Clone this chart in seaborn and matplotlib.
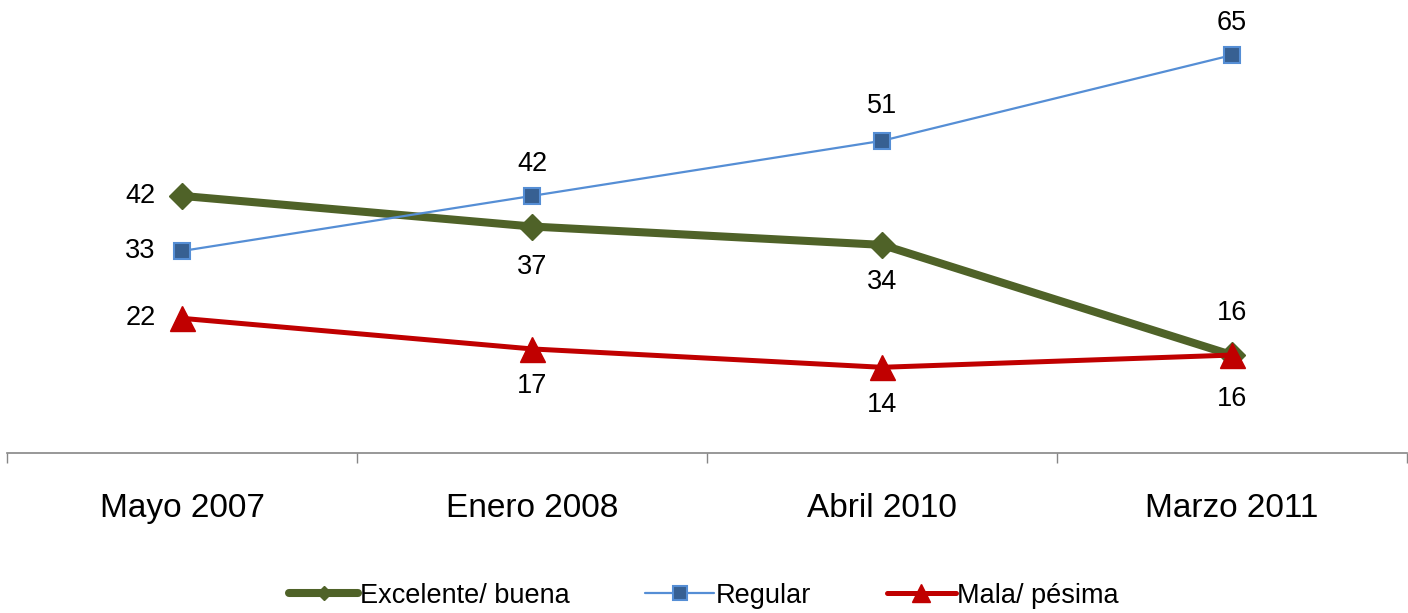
import matplotlib.pyplot as plt
import pandas as pd
import seaborn as sns

periods = ["Mayo 2007", "Enero 2008", "Abril 2010", "Marzo 2011"]
excelente = [42, 37, 34, 16]
regular = [33, 42, 51, 65]
mala = [22, 17, 14, 16]

series_names = ["Excelente/ buena", "Regular", "Mala/ pésima"]

sns.set_style("white")
plt.rcParams["font.family"] = ["Liberation Sans Narrow", "Liberation Sans", "DejaVu Sans"]

df = pd.DataFrame(
    {
        "periodo": periods * 3,
        "valor": excelente + regular + mala,
        "serie": [s for s in series_names for _ in periods],
    }
)

styles = {
    "Excelente/ buena": dict(color="#4F6228", lw=5.8, marker="D", ms=13,
                             mfc="#4F6228", mec="#4F6228", mew=1),
    "Regular": dict(color="#558ED5", lw=1.6, marker="s", ms=11,
                    mfc="#376092", mec="#558ED5", mew=1.5),
    "Mala/ pésima": dict(color="#C00000", lw=3.6, marker="^", ms=18,
                         mfc="#C00000", mec="#C00000", mew=1),
}
legend_ms = [7.5, 10, 13]

# label offsets in points (dx, dy) for each point of each series
offsets = {
    "Excelente/ buena": [(-19, 0), (0, -29), (0, -27), (0, 30)],
    "Regular": [(-19, 0), (0, 23), (0, 25), (0, 23)],
    "Mala/ pésima": [(-19, 0), (0, -27), (0, -27), (0, -32)],
}

fig = plt.figure(figsize=(14.08, 6.13), dpi=100)
ax = fig.add_axes([7 / 1408, 1 - 453 / 613, 1400 / 1408, 453 / 613])

for name in series_names:
    sub = df[df["serie"] == name]
    st = styles[name]
    sns.lineplot(
        data=sub, x="periodo", y="valor", ax=ax, color=st["color"],
        linewidth=st["lw"], marker=st["marker"], markersize=st["ms"],
        markerfacecolor=st["mfc"], markeredgecolor=st["mec"],
        markeredgewidth=st["mew"], label=name, sort=False,
    )
    for i, v in enumerate(sub["valor"]):
        off = offsets[name][i]
        ha = "right" if off[0] < 0 else "center"
        ax.annotate(str(v), (i, v), xytext=off, textcoords="offset points",
                    ha=ha, va="center", fontsize=19.5, color="black")

ax.set_xlim(-0.5, 3.5)
ax.set_ylim(0, 74)
ax.set_xlabel("")
ax.set_ylabel("")
ax.set_yticks([])
ax.set_xticks(range(len(periods)))
ax.set_xticklabels(periods, fontsize=24, color="black")
ax.set_xticks([-0.5, 0.5, 1.5, 2.5, 3.5], minor=True)
ax.tick_params(axis="x", which="major", length=0, pad=29)
ax.tick_params(axis="x", which="minor", length=7, width=1, color="#868686",
               direction="out", bottom=True)
for side in ["top", "right", "left"]:
    ax.spines[side].set_visible(False)
ax.spines["bottom"].set_color("#868686")
ax.spines["bottom"].set_linewidth(1.2)

ax.get_legend().remove()
handles, labels = ax.get_legend_handles_labels()
leg = fig.legend(handles, labels, loc="center", bbox_to_anchor=(0.5, 0.028),
                 ncol=3, frameon=False, fontsize=19.5, handlelength=2.55,
                 handletextpad=0.05, columnspacing=2.8)
for t in leg.get_texts():
    t.set_color("black")
for h, ms in zip(leg.legend_handles, legend_ms):
    h.set_markersize(ms)

fig.savefig("out.png", dpi=100)
